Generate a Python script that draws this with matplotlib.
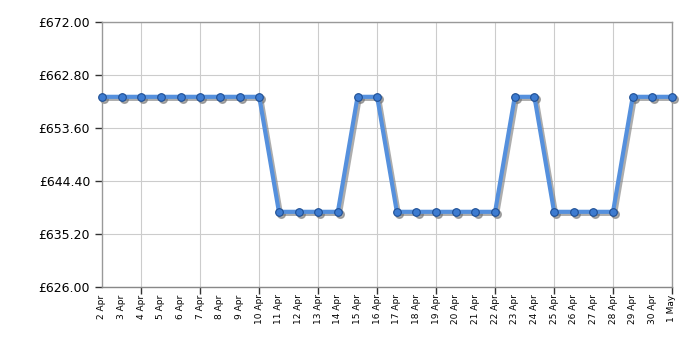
import matplotlib
matplotlib.use("Agg")
import matplotlib.pyplot as plt
import matplotlib.transforms as mtransforms

dates = ["2 Apr", "3 Apr", "4 Apr", "5 Apr", "6 Apr", "7 Apr", "8 Apr", "9 Apr", "10 Apr",
         "11 Apr", "12 Apr", "13 Apr", "14 Apr", "15 Apr", "16 Apr", "17 Apr", "18 Apr",
         "19 Apr", "20 Apr", "21 Apr", "22 Apr", "23 Apr", "24 Apr", "25 Apr", "26 Apr",
         "27 Apr", "28 Apr", "29 Apr", "30 Apr", "1 May"]
prices = [658.99] * 9 + [638.99] * 4 + [658.99] * 2 + [638.99] * 6 + [658.99] * 2 + [638.99] * 4 + [658.99] * 3
yticks = [626.00, 635.20, 644.40, 653.60, 662.80, 672.00]

fig = plt.figure(figsize=(7, 3.5), dpi=100)
ax = fig.add_axes([102 / 700, 1 - 286.5 / 350, 570 / 700, 264.5 / 350])

x = list(range(len(dates)))
shadow = ax.transData + mtransforms.ScaledTranslation(1.5 / 72, -1.5 / 72, fig.dpi_scale_trans)
ax.plot(x, prices, color="#777777", alpha=0.6, lw=3.0, marker="o", markersize=5.5,
        markerfacecolor="#777777", markeredgecolor="#777777", transform=shadow, zorder=2,
        clip_on=False)
ax.plot(x, prices, color="#5590dd", lw=3.0, marker="o", markersize=5.5,
        markerfacecolor="#3d7bd0", markeredgecolor="#1f4f94", markeredgewidth=0.8,
        zorder=3, clip_on=False)

ax.set_xlim(0, len(dates) - 1)
ax.set_ylim(626, 672)
ax.set_yticks(yticks)
ax.set_yticklabels([f"£{v:.2f}" for v in yticks], fontsize=9)

major = [i for i in range(2, len(dates), 3)]
ax.set_xticks(major)
ax.set_xticks(x, minor=True)
ax.set_xticklabels([])
for i, d in enumerate(dates):
    ax.text(i, -0.03, d, transform=ax.get_xaxis_transform(), rotation=90,
            ha="center", va="top", fontsize=6.5)

ax.grid(True, which="major", color="#cccccc", lw=0.8)
ax.tick_params(axis="y", length=5, color="#333333", width=1)
ax.tick_params(axis="x", which="major", length=5, color="#333333", width=1)
ax.tick_params(axis="x", which="minor", length=0)
for s in ax.spines.values():
    s.set_color("#999999")
    s.set_linewidth(1)
ax.spines["bottom"].set_color("#888888")

fig.savefig("out.png", dpi=100)
